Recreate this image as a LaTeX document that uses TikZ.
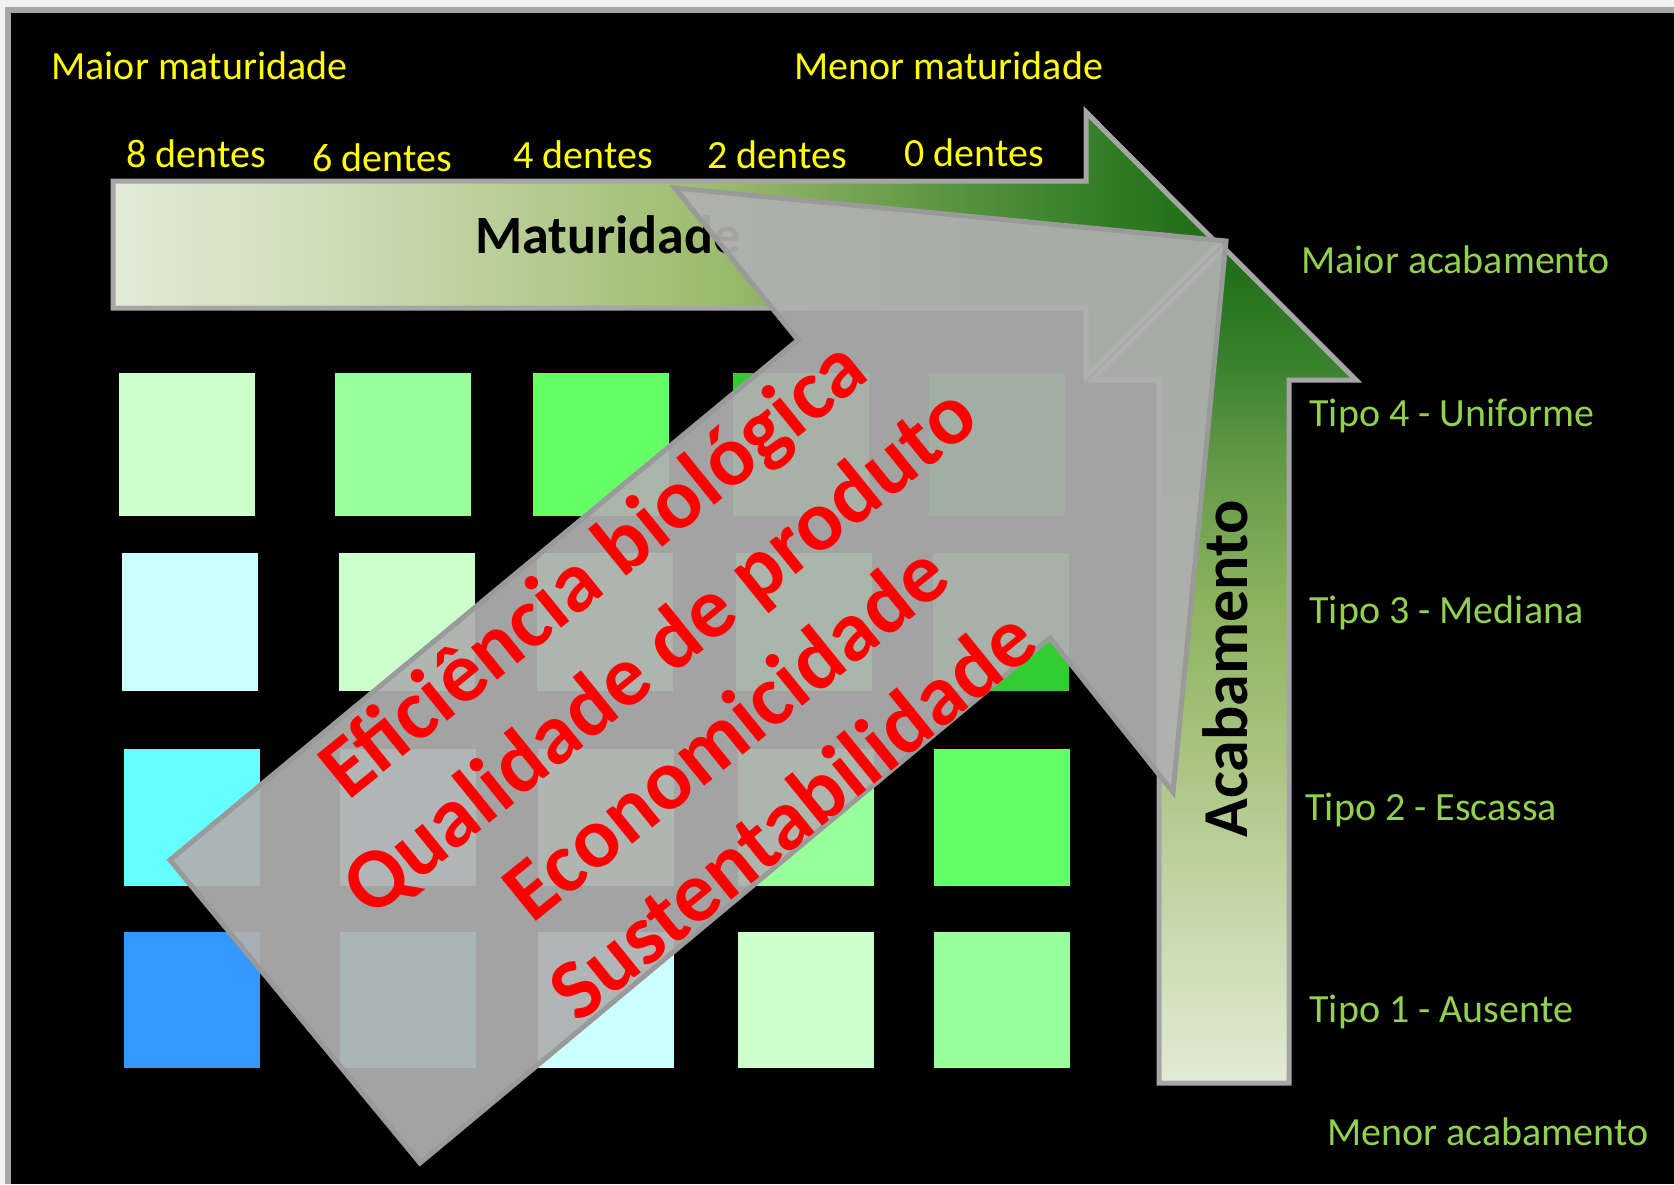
\documentclass[tikz,border=0pt]{standalone}
\usepackage{fontspec}
\setmainfont{Carlito}

\definecolor{pagelight}{HTML}{F2F2F2}
\definecolor{framegray}{HTML}{A6A6A6}
\definecolor{edgegray}{HTML}{A6A6A6}
\definecolor{lblyellow}{HTML}{FFFF00}
\definecolor{lblgreen}{HTML}{92D050}
\definecolor{overgray}{HTML}{B0B0B0}
\definecolor{overedge}{HTML}{9A9A9A}
\definecolor{sq0}{HTML}{3399FF}
\definecolor{sq1}{HTML}{66FFFF}
\definecolor{sq2}{HTML}{CCFFFF}
\definecolor{sq3}{HTML}{CCFFCC}
\definecolor{sq4}{HTML}{99FF99}
\definecolor{sq5}{HTML}{66FF66}
\definecolor{sq6}{HTML}{33CC33}
\definecolor{sq7}{HTML}{009900}
\definecolor{gr0}{HTML}{E2EBD6}
\definecolor{gr1}{HTML}{D0DFBE}
\definecolor{gr2}{HTML}{BCD09C}
\definecolor{gr3}{HTML}{9BBB6C}
\definecolor{gr4}{HTML}{6C9E4B}
\definecolor{gr5}{HTML}{3F8530}
\definecolor{gr6}{HTML}{1D6B14}
\definecolor{gv1}{HTML}{C3D6A7}
\definecolor{gv2}{HTML}{A8C27F}
\definecolor{gv3}{HTML}{8CB25D}
\definecolor{gv4}{HTML}{5E9645}
\definecolor{gv5}{HTML}{3A8230}

\pgfdeclarehorizontalshading{matshade}{100bp}{color(0bp)=(gr0); color(25bp)=(gr0);
  color(33.5bp)=(gr1); color(41.5bp)=(gr2); color(52.5bp)=(gr3); color(60bp)=(gr4);
  color(67.5bp)=(gr5); color(75bp)=(gr6); color(100bp)=(gr6)}
\pgfdeclareverticalshading{acabshade}{100bp}{color(0bp)=(gr0); color(25bp)=(gr0);
  color(36bp)=(gv1); color(45bp)=(gv2); color(54bp)=(gv3); color(63bp)=(gv4);
  color(68bp)=(gv5); color(75bp)=(gr6); color(100bp)=(gr6)}

\tikzset{
  ylab/.style={font=\fontsize{20pt}{24pt}\selectfont, text=lblyellow, anchor=base west, inner sep=0pt},
  glab/.style={font=\fontsize{20pt}{24pt}\selectfont, text=lblgreen, anchor=base west, inner sep=0pt},
  bigblack/.style={font=\fontsize{27pt}{32pt}\selectfont\bfseries, text=black, inner sep=0pt},
  arrowedge/.style={draw=edgegray, line width=2.5pt, line join=miter},
  overarrow/.style={fill=overgray, fill opacity=0.93, draw=overedge, line width=2.5pt, line join=miter},
  redtxt/.style={font=\fontsize{43pt}{53pt}\selectfont\bfseries, text=red, align=center, inner sep=0pt}
}

\begin{document}
\begin{tikzpicture}[x=0.5pt, y=-0.5pt]
        \useasboundingbox (0,0) rectangle (1674,1184);
        \fill[pagelight] (0,0) rectangle (1674,1184);
        \fill[framegray] (5,7) rectangle (1674,1184);
        \fill[black] (11,13) rectangle (1674,1184);

        \foreach \r/\top/\bot/\sh in {1/373/516/0, 2/553/691/3.5, 3/749/886/5, 4/932/1068/5}
          \foreach \c/\lx in {1/118.5, 2/335, 3/533, 4/732.5, 5/929} {
            \pgfmathtruncatemacro\k{\c-\r+3}
            \fill[sq\k] (\lx+\sh,\top) rectangle (\lx+\sh+136,\bot);
          }

        \shadedraw[shading=matshade, arrowedge] (113,181) -- (1086,181) -- (1086,112)
          -- (1218,244.5) -- (1086,377) -- (1086,308) -- (113,308) -- cycle;
        \node[bigblack, anchor=base west] (matur) at (475,253) {Maturidade};

        \shadedraw[shading=acabshade, arrowedge] (1159,1083) -- (1159,380) -- (1092,380)
          -- (1224,248) -- (1356,380) -- (1289,380) -- (1289,1083) -- cycle;
        \node[bigblack, font=\fontsize{32pt}{38pt}\selectfont\bfseries, rotate=90, anchor=base]
          (acab) at (1247,669) {Acabamento};

        \draw[overarrow] (170,860) -- (798,340) -- (675,188) -- (1226,241)
          -- (1173,792) -- (1050,638) -- (420,1163) -- cycle;
        \node[redtxt, rotate=39] (metas) at (691,690)
          {Eficiência biológica\\Qualidade de produto\\Economicidade\\Sustentabilidade};

        \node[ylab] (maiormat) at (51,79) {Maior maturidade};
        \node[ylab] (menormat) at (794,79) {Menor maturidade};
        \node[ylab] (d8) at (126,167) {8 dentes};
        \node[ylab] (d6) at (312,171) {6 dentes};
        \node[ylab] (d4) at (513,168) {4 dentes};
        \node[ylab] (d2) at (707,168) {2 dentes};
        \node[ylab] (d0) at (904,166) {0 dentes};

        \node[glab] (maioracab) at (1301,273) {Maior acabamento};
        \node[glab] (tipo4) at (1309,426) {Tipo 4 - Uniforme};
        \node[glab] (tipo3) at (1309,623) {Tipo 3 - Mediana};
        \node[glab] (tipo2) at (1305,820) {Tipo 2 - Escassa};
        \node[glab] (tipo1) at (1309,1022) {Tipo 1 - Ausente};
        \node[glab] (menoracab) at (1327,1145) {Menor acabamento};
      \end{tikzpicture}
\end{document}
